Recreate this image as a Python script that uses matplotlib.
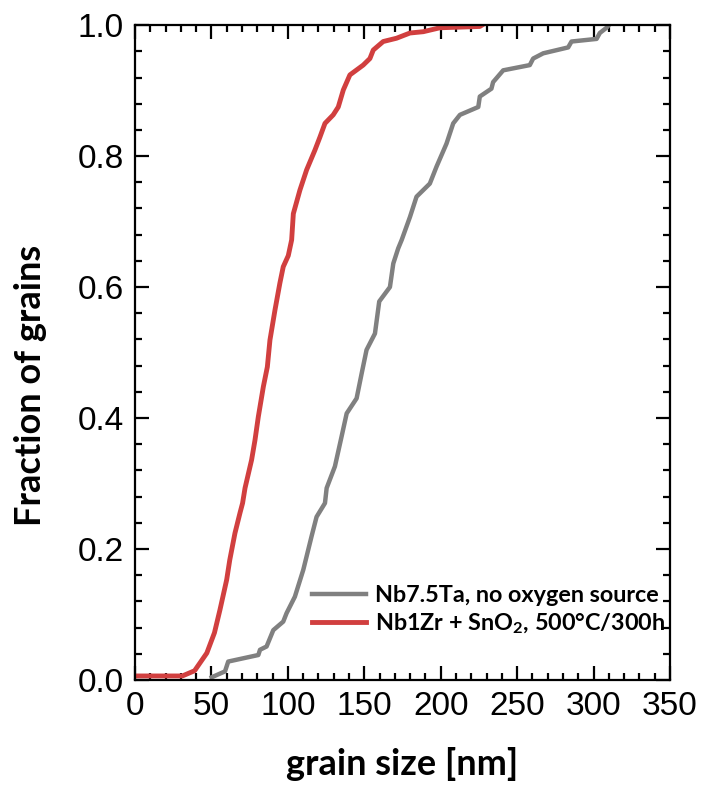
"""
Cumulative grain size distribution: Nb7.5Ta vs Nb1Zr + SnO2
"""

import matplotlib.pyplot as plt
from matplotlib.ticker import MultipleLocator

# Nb7.5Ta, no oxygen source (grey)
ta_size = [50.2, 58.9, 61.0, 80.7, 81.8, 86.1, 90.5, 97.0, 99.2, 104.6, 110.1,
           115.5, 118.8, 124.3, 125.4, 130.8, 135.2, 138.5, 145.0, 148.3,
           151.5, 157.0, 159.8, 166.8, 169.0, 172.2, 174.5, 179.9, 184.2,
           192.9, 197.3, 203.8, 208.2, 212.6, 224.6, 225.6, 233.2, 234.3,
           240.9, 258.3, 260.5, 267.1, 283.4, 285.6, 302.0, 304.1, 308.5, 310.0]
ta_frac = [0.004, 0.013, 0.028, 0.038, 0.046, 0.051, 0.076, 0.089, 0.102, 0.127,
           0.168, 0.219, 0.249, 0.270, 0.293, 0.326, 0.372, 0.407, 0.430, 0.468,
           0.504, 0.529, 0.578, 0.600, 0.636, 0.659, 0.672, 0.707, 0.738,
           0.758, 0.784, 0.819, 0.850, 0.863, 0.875, 0.891, 0.903, 0.913,
           0.931, 0.939, 0.949, 0.957, 0.966, 0.975, 0.979, 0.988, 0.996, 1.0]

# Nb1Zr + SnO2, 500C/300h (red)
zr_size = [0.0, 31.0, 39.0, 47.0, 52.0, 55.6, 60.0, 62.0, 65.4, 68.7, 70.4,
           72.0, 76.3, 78.5, 80.7, 84.0, 86.6, 88.3, 91.6, 94.8, 97.0, 100.3,
           102.5, 103.6, 107.9, 112.3, 117.7, 121.0, 124.3, 129.7, 133.0,
           136.3, 140.6, 149.3, 153.7, 155.9, 162.4, 171.1, 179.9, 188.6,
           199.5, 225.6, 227.0]
zr_frac = [0.006, 0.006, 0.014, 0.041, 0.072, 0.107, 0.153, 0.183, 0.224, 0.255,
           0.270, 0.293, 0.336, 0.366, 0.402, 0.448, 0.478, 0.519, 0.565, 0.606,
           0.631, 0.648, 0.672, 0.712, 0.748, 0.779, 0.809, 0.829, 0.850,
           0.863, 0.875, 0.901, 0.924, 0.939, 0.949, 0.962, 0.975, 0.980,
           0.988, 0.990, 0.996, 0.998, 1.0]

plt.rcParams['font.family'] = ['Liberation Sans', 'DejaVu Sans']
plt.rcParams['mathtext.fontset'] = 'custom'

fig = plt.figure(figsize=(7.03, 7.86), dpi=100)
ax = fig.add_axes([0.192, 0.135, 0.761, 0.833])

ax.plot(ta_size, ta_frac, color='#808080', linewidth=3.2,
        label='Nb7.5Ta, no oxygen source')
ax.plot(zr_size, zr_frac, color='#d13f3f', linewidth=3.5,
        label=r'Nb1Zr + SnO$_\mathregular{2}$, 500°C/300h')

ax.set_xlim(0, 350)
ax.set_ylim(0, 1.0)
ax.xaxis.set_major_locator(MultipleLocator(50))
ax.xaxis.set_minor_locator(MultipleLocator(10))
ax.yaxis.set_major_locator(MultipleLocator(0.2))
ax.yaxis.set_minor_locator(MultipleLocator(0.04))
ax.yaxis.set_major_formatter(plt.FormatStrFormatter('%.1f'))

ax.tick_params(which='both', direction='in', top=True, right=True,
               width=1.6, labelsize=24)
ax.tick_params(which='major', length=10, pad=8)
ax.tick_params(which='minor', length=5)
for sp in ax.spines.values():
    sp.set_linewidth(1.6)

ax.set_xlabel('grain size [nm]', fontsize=26, fontweight='bold',
              family='Lato', labelpad=18)
ax.set_ylabel('Fraction of grains', fontsize=26, fontweight='bold',
              family='Lato')
# label sits a bit below the axis centre in the original
ax.yaxis.set_label_coords(-0.165, 0.45)

leg = ax.legend(loc='lower right', bbox_to_anchor=(1.0, 0.06), frameon=False,
                prop={'family': 'Lato', 'weight': 'bold', 'size': 16.8},
                handlelength=2.3, handletextpad=0.4, labelspacing=0.2,
                borderpad=0, borderaxespad=0.2)

plt.savefig('out.png', dpi=100)
plt.close()
